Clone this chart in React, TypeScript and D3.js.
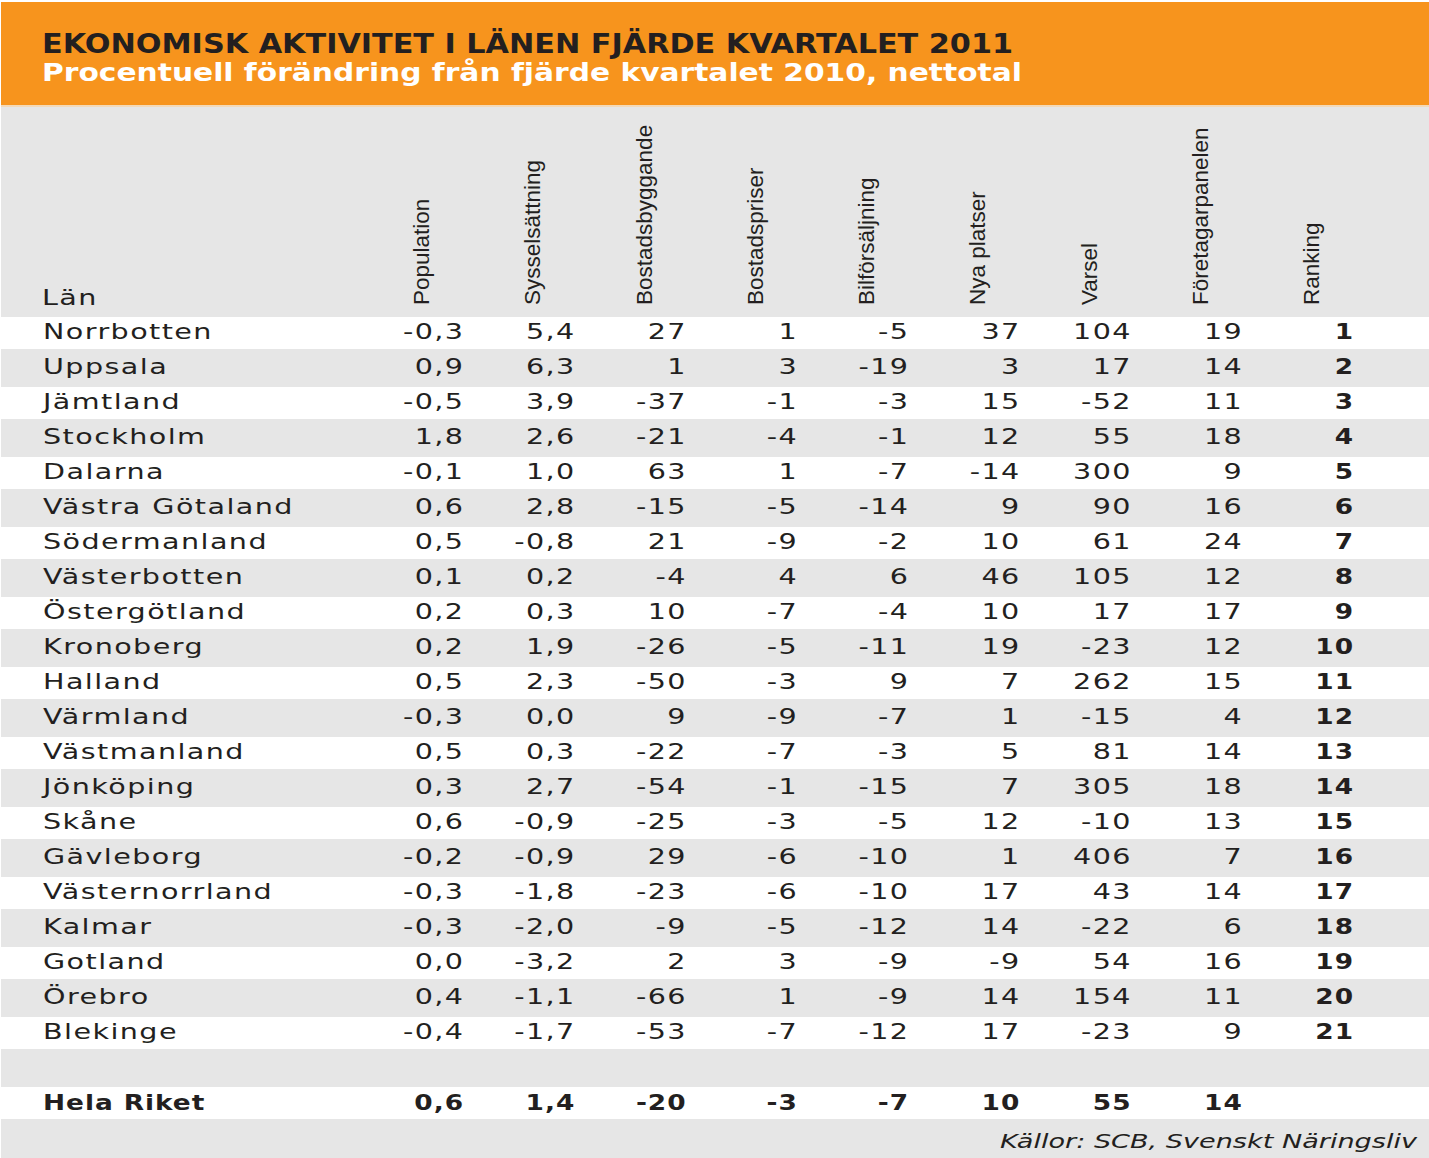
import React from "react";
import * as d3 from "d3";

const TITLE = "EKONOMISK AKTIVITET I LÄNEN FJÄRDE KVARTALET 2011";
const SUBTITLE = "Procentuell förändring från fjärde kvartalet 2010, nettotal";
const SOURCE = "Källor: SCB, Svenskt Näringsliv";
const ROW_HEADER = "Län";

const columns = [
  "Population",
  "Sysselsättning",
  "Bostadsbyggande",
  "Bostadspriser",
  "Bilförsäljning",
  "Nya platser",
  "Varsel",
  "Företagarpanelen",
  "Ranking",
];
const decimals = [1, 1, 0, 0, 0, 0, 0, 0, 0];

const lan = [
  "Norrbotten", "Uppsala", "Jämtland", "Stockholm", "Dalarna", "Västra Götaland",
  "Södermanland", "Västerbotten", "Östergötland", "Kronoberg", "Halland", "Värmland",
  "Västmanland", "Jönköping", "Skåne", "Gävleborg", "Västernorrland", "Kalmar",
  "Gotland", "Örebro", "Blekinge",
];

const population = [-0.3, 0.9, -0.5, 1.8, -0.1, 0.6, 0.5, 0.1, 0.2, 0.2, 0.5, -0.3, 0.5, 0.3, 0.6, -0.2, -0.3, -0.3, 0.0, 0.4, -0.4];
const sysselsattning = [5.4, 6.3, 3.9, 2.6, 1.0, 2.8, -0.8, 0.2, 0.3, 1.9, 2.3, 0.0, 0.3, 2.7, -0.9, -0.9, -1.8, -2.0, -3.2, -1.1, -1.7];
const bostadsbyggande = [27, 1, -37, -21, 63, -15, 21, -4, 10, -26, -50, 9, -22, -54, -25, 29, -23, -9, 2, -66, -53];
const bostadspriser = [1, 3, -1, -4, 1, -5, -9, 4, -7, -5, -3, -9, -7, -1, -3, -6, -6, -5, 3, 1, -7];
const bilforsaljning = [-5, -19, -3, -1, -7, -14, -2, 6, -4, -11, 9, -7, -3, -15, -5, -10, -10, -12, -9, -9, -12];
const nyaPlatser = [37, 3, 15, 12, -14, 9, 10, 46, 10, 19, 7, 1, 5, 7, 12, 1, 17, 14, -9, 14, 17];
const varsel = [104, 17, -52, 55, 300, 90, 61, 105, 17, -23, 262, -15, 81, 305, -10, 406, 43, -22, 54, 154, -23];
const foretagarpanelen = [19, 14, 11, 18, 9, 16, 24, 12, 17, 12, 15, 4, 14, 18, 13, 7, 14, 6, 16, 11, 9];
const ranking = [1, 2, 3, 4, 5, 6, 7, 8, 9, 10, 11, 12, 13, 14, 15, 16, 17, 18, 19, 20, 21];

const totalLabel = "Hela Riket";
const totalValues = [0.6, 1.4, -20, -3, -7, 10, 55, 14, null];

const seriesByColumn = [
  population, sysselsattning, bostadsbyggande, bostadspriser, bilforsaljning,
  nyaPlatser, varsel, foretagarpanelen, ranking,
];

const W = 1429;
const H = 1158;
const ORANGE = "#f7941d";
const GRAY = "#e6e6e6";
const INK = "#231f20";

const locale = d3.formatLocale({
  decimal: ",",
  thousands: " ",
  grouping: [3],
  currency: ["", " kr"],
  minus: "-",
});
const fmt1 = locale.format(".1f");
const fmt0 = locale.format(".0f");
const fmtVal = (v: number, dec: number) => (dec === 1 ? fmt1(v) : fmt0(v));

const BODY_FONT = "'DejaVu Sans', sans-serif";
const HEAD_FONT = "'Liberation Sans', Arial, sans-serif";

function WideText({
  x, y, text, anchor = "start", bold = false, size = 22,
}: { x: number; y: number; text: string; anchor?: "start" | "end"; bold?: boolean; size?: number }) {
  const sx = bold ? 1.2 : 1.3;
  const ls = bold ? 0.8 : 1.1;
  const dx = anchor === "end" ? ls * sx : 0;
  return (
    <text
      transform={`translate(${x + dx},${y}) scale(${sx},1)`}
      textAnchor={anchor}
      fontFamily={BODY_FONT}
      fontWeight={bold ? "bold" : "normal"}
      fontSize={size}
      letterSpacing={ls}
      fill={INK}
    >
      {text}
    </text>
  );
}

export default function App() {
  const xCol = d3.scalePoint<string>().domain(columns).range([463, 1353]);
  const rowIdx = d3.range(23);
  const yRow = d3.scaleLinear().domain([0, 1]).range([317, 352]);
  const rowH = 32;
  const nameX = 43;

  return (
    <svg
      width={W}
      height={H}
      style={{ position: "absolute", left: 0, top: 0, display: "block" }}
    >
      <rect x={0} y={0} width={W} height={H} fill="#ffffff" />
      <rect x={1} y={2} width={W - 1} height={H - 2} fill={GRAY} />
      <rect x={1} y={2} width={W - 1} height={103} fill={ORANGE} />
      <rect x={1} y={105} width={W - 1} height={2} fill="#f3d9b8" />

      <text
        x={42}
        y={53}
        fontFamily={BODY_FONT}
        fontWeight="bold"
        fontSize={26}
        fill={INK}
        textLength={971}
        lengthAdjust="spacingAndGlyphs"
      >
        {TITLE}
      </text>
      <text
        x={42}
        y={81}
        fontFamily={BODY_FONT}
        fontWeight="bold"
        fontSize={24}
        fill="#ffffff"
        textLength={980}
        lengthAdjust="spacingAndGlyphs"
      >
        {SUBTITLE}
      </text>

      {/* white stripes */}
      {rowIdx
        .filter((i) => i % 2 === 0)
        .map((i) => (
          <rect key={"r" + i} x={1} y={yRow(i)} width={W - 1} height={rowH} fill="#ffffff" />
        ))}

      {/* column headers */}
      <WideText x={42} y={305} text={ROW_HEADER} />
      {columns.map((c) => {
        const bx = (xCol(c) as number) - 34;
        return (
          <text
            key={c}
            transform={`translate(${bx},305) rotate(-90)`}
            fontFamily={HEAD_FONT}
            fontSize={22.5}
            fill={INK}
            style={{ fontWeight: 300 }}
          >
            {c}
          </text>
        );
      })}

      {/* body */}
      {lan.map((name, i) => {
        const y = yRow(i) + 22;
        return (
          <g key={name}>
            <WideText x={nameX} y={y} text={name} />
            {columns.map((c, j) => (
              <WideText
                key={c}
                x={xCol(c) as number}
                y={y}
                text={fmtVal(seriesByColumn[j][i], decimals[j])}
                anchor="end"
                bold={c === "Ranking"}
              />
            ))}
          </g>
        );
      })}

      {/* total */}
      <g>
        <WideText x={nameX} y={yRow(22) + 23} text={totalLabel} bold />
        {columns.map((c, j) =>
          totalValues[j] === null ? null : (
            <WideText
              key={c}
              x={xCol(c) as number}
              y={yRow(22) + 23}
              text={fmtVal(totalValues[j] as number, decimals[j])}
              anchor="end"
              bold
            />
          )
        )}
      </g>

      <text
        x={1000}
        y={1148}
        fontFamily={BODY_FONT}
        fontStyle="italic"
        fontSize={19}
        fill={INK}
        textLength={417}
        lengthAdjust="spacingAndGlyphs"
      >
        {SOURCE}
      </text>
    </svg>
  );
}
